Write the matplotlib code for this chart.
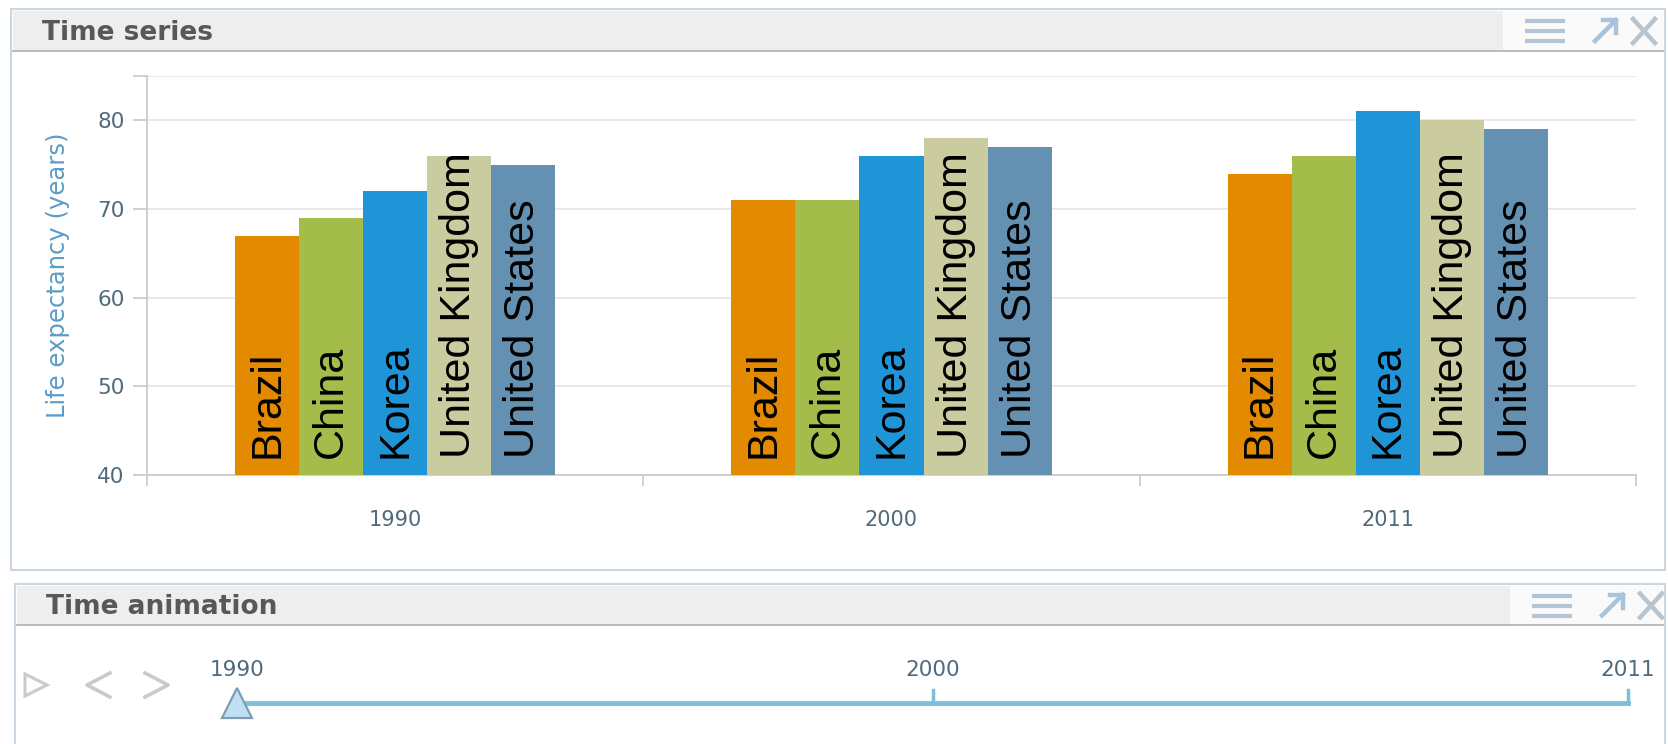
import numpy as np
import matplotlib.pyplot as plt
from matplotlib.patches import Rectangle, Polygon

# Life expectancy (years) by country and year
years = ['1990', '2000', '2011']
countries = ['Brazil', 'China', 'Korea', 'United Kingdom', 'United States']
brazil = [67, 71, 74]
china = [69, 71, 76]
korea = [72, 76, 81]
uk = [76, 78, 80]
us = [75, 77, 79]
series = [brazil, china, korea, uk, us]
colors = ['#E38A00', '#A3BC4A', '#1F95D8', '#CACB9F', '#6490B2']

W, H = 1668, 744
fig = plt.figure(figsize=(W / 100, H / 100), dpi=100)
fig.patch.set_facecolor('white')

# background layer in pixel coordinates: panels, headers, icons
bg = fig.add_axes([0, 0, 1, 1], zorder=0)
bg.set_xlim(0, W)
bg.set_ylim(H, 0)
bg.axis('off')

border = '#C9D6E2'
icon = '#B4C6D6'


def panel(x0, y0, x1, y1, head_bottom, title, icon_x):
    bg.add_patch(Rectangle((x0, y0), x1 - x0, y1 - y0, fc='white', ec=border, lw=1.5))
    bg.add_patch(Rectangle((x0 + 2, y0 + 2), x1 - x0 - 4, head_bottom - y0 - 2,
                           fc='#EEEEEE', ec='none'))
    bg.add_patch(Rectangle((icon_x, y0 + 2), x1 - 2 - icon_x, head_bottom - y0 - 2,
                           fc='#FAFAFA', ec='none'))
    bg.plot([x0 + 2, x1 - 2], [head_bottom, head_bottom], color='#B5B5B5', lw=1.3)
    bg.text(x0 + 31, (y0 + head_bottom) / 2 + 3, title, fontsize=19, fontweight='bold',
            color='#585858', va='center', ha='left')
    # hamburger, pop-out arrow, close
    cy = (y0 + head_bottom) / 2 + 1
    hx = icon_x + 22
    for dy in (-10, 0, 10):
        bg.plot([hx, hx + 40], [cy + dy, cy + dy], color=icon, lw=3, solid_capstyle='butt')
    ax0 = hx + 70
    bg.plot([ax0, ax0 + 21], [cy + 10, cy - 11], color='#A8C4DC', lw=3.2)
    bg.plot([ax0 + 8, ax0 + 21, ax0 + 21], [cy - 11, cy - 11, cy + 2], color='#A8C4DC', lw=3.2)
    xx = ax0 + 38
    bg.plot([xx, xx + 22], [cy - 12, cy + 12], color='#B8C4CE', lw=3.2)
    bg.plot([xx, xx + 22], [cy + 12, cy - 12], color='#B8C4CE', lw=3.2)


panel(11, 9, 1665, 570, 51, 'Time series', 1503)
panel(15, 584, 1665, 770, 625, 'Time animation', 1510)

# play / previous / next controls
ctrl = '#CACACA'
bg.add_patch(Polygon([(25, 674), (47, 685), (25, 696)], closed=True, fill=False, ec=ctrl, lw=2.2))
bg.plot([110, 87, 110], [673, 685, 697], color=ctrl, lw=2.6)
bg.plot([145, 168, 145], [673, 685, 697], color=ctrl, lw=2.6)

# grouped bar chart
ax = fig.add_axes([147 / W, 1 - 475 / H, (1636 - 147) / W, (475 - 76) / H], zorder=2)
ax.set_facecolor('none')
x = np.arange(len(years))
bw = 0.129
for i, (name, vals, c) in enumerate(zip(countries, series, colors)):
    pos = x + (i - 2) * bw
    ax.bar(pos, np.array(vals) - 40, bw, bottom=40, color=c, zorder=3)
    for p in pos:
        ax.annotate(name, (p, 40), xytext=(0, 12), textcoords='offset points',
                    rotation=90, ha='center', va='bottom', fontsize=31,
                    family='Liberation Sans', color='black', zorder=4)

ax.set_xlim(-0.5, 2.5)
ax.set_ylim(40, 85)
ax.set_yticks([40, 50, 60, 70, 80, 85])
ax.set_yticklabels(['40', '50', '60', '70', '80', ''])
ax.grid(axis='y', color='#E4E4E4', lw=1.2, zorder=0)
ax.set_xticks(x)
ax.set_xticklabels(years)
ax.set_xticks([-0.5, 0.5, 1.5, 2.5], minor=True)
ax.tick_params(axis='x', which='major', length=0, pad=25, labelsize=15, labelcolor='#4E6A7C')
ax.tick_params(axis='x', which='minor', length=8, width=1.2, color='#C8C8C8')
ax.tick_params(axis='y', length=10, width=1.2, color='#C8C8C8', pad=6,
               labelsize=15.5, labelcolor='#4E6A7C')
for s in ('top', 'right'):
    ax.spines[s].set_visible(False)
for s in ('left', 'bottom'):
    ax.spines[s].set_color('#C8C8C8')
    ax.spines[s].set_linewidth(1.2)
ax.set_ylabel('Life expectancy (years)', fontsize=17.5, color='#5C9CC6')
ax.yaxis.set_label_coords(-0.052, 0.5)

# time slider
sl = fig.add_axes([237 / W, 1 - 740 / H, (1628 - 237) / W, 100 / H], zorder=2)
sl.set_xlim(0, len(years) - 1)
sl.set_ylim(740, 640)
sl.axis('off')
line_y = 703
sl.plot([0, len(years) - 1], [line_y, line_y], color='#7DBFDC', lw=3.5, clip_on=False)
for i, yr in enumerate(years):
    if i > 0:
        sl.plot([i, i], [line_y, line_y - 13], color='#7DBFDC', lw=2.5, clip_on=False)
    sl.text(i, 670, yr, ha='center', va='center', fontsize=15.5, color='#4E6A7C')
sl.plot([0], [line_y], marker='^', ms=22, mfc='#BEE0F4', mec='#7F9DB3', mew=1.6,
        clip_on=False, zorder=5)

fig.savefig('out.png', dpi=100)
